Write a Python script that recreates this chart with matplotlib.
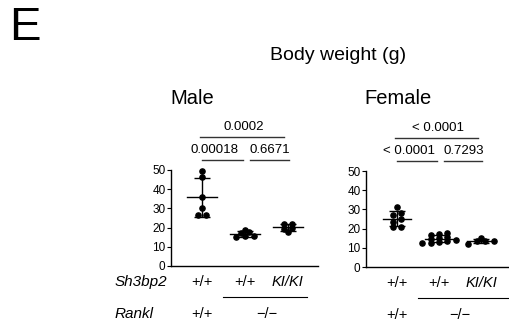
import numpy as np
import matplotlib.pyplot as plt

plt.rcParams['font.family'] = ['Liberation Sans', 'DejaVu Sans']

# Data (body weight, g)
male_wt = [49.5, 46.5, 36, 30, 26.5, 26.5]
male_ko = [15, 17, 17.5, 19, 15.5, 15.5]
male_ki = [22, 17.5, 20, 22, 19.5]
female_wt = [31, 28, 27, 25, 23.5, 21, 21]
female_ko = [17.5, 17, 16.5, 15.5, 15, 14.5, 14, 13.5, 13, 12.5, 12.5]
female_ki = [15, 13.5, 13.5, 13.5, 12]

male_p = ["0.00018", "0.6671", "0.0002"]
female_p = ["< 0.0001", "0.7293", "< 0.0001"]
sh3bp2_labels = ["+/+", "+/+", "KI/KI"]
rankl_labels = ["+/+", "\u2212/\u2212"]
yticks = [0, 10, 20, 30, 40, 50]

W, H = 510, 326
fig = plt.figure(figsize=(W / 100, H / 100), dpi=100)


def px_axes(x0, x1, ytop, ybot):
    return fig.add_axes([x0 / W, 1 - ybot / H, (x1 - x0) / W, (ybot - ytop) / H])


def jitter(vals, width):
    # simple deterministic spread: points at similar heights placed side by side
    vals = np.asarray(vals, float)
    off = np.zeros(len(vals))
    order = np.argsort(vals)
    rows = []
    for i in order:
        placed = False
        for r in rows:
            if abs(vals[r[0]] - vals[i]) < 1.8:
                r.append(i)
                placed = True
                break
        if not placed:
            rows.append([i])
    for r in rows:
        n = len(r)
        pos = (np.arange(n) - (n - 1) / 2) * width
        for k, i in enumerate(r):
            off[i] = pos[k]
    return off


def panel(ax, groups, pvals, xlim, line_x):
    for i, g in enumerate(groups):
        x = i + 1
        g = np.asarray(g)
        m, s = g.mean(), g.std(ddof=1)
        ax.scatter(x + jitter(g, 0.2), g, s=14, color='black', zorder=3, clip_on=False)
        ax.plot([x - 0.34, x + 0.34], [m, m], color='black', lw=1.0)
        ax.errorbar(x, m, yerr=s, color='black', capsize=6, elinewidth=1.0,
                    capthick=1.0, fmt='none')
    ax.set_xlim(*xlim)
    ax.set_ylim(0, 50)
    ax.set_yticks(yticks)
    ax.set_xticks([])
    ax.spines['top'].set_visible(False)
    ax.spines['right'].set_visible(False)
    ax.spines['left'].set_bounds(0, 50)
    ax.tick_params(axis='y', labelsize=8.5, length=3, width=0.8, pad=1)
    for sp in ['left', 'bottom']:
        ax.spines[sp].set_linewidth(1.0)
    # significance brackets
    kw = dict(color='#333333', lw=1.0, clip_on=False)
    ax.plot([1.0, 1.95], [55.2, 55.2], **kw)
    ax.plot([2.12, 3.02], [55.2, 55.2], **kw)
    ax.plot([0.96, 2.92], [67.2, 67.2], **kw)
    ax.text(1.29, 57.3, pvals[0], ha='center', va='bottom', fontsize=9.5)
    ax.text(2.58, 57.3, pvals[1], ha='center', va='bottom', fontsize=9.5)
    ax.text(1.98, 69.3, pvals[2], ha='center', va='bottom', fontsize=9.5)
    # genotype labels
    for i, lab in enumerate(sh3bp2_labels):
        ax.text(i + 1, -8.3, lab, ha='center', va='center', fontsize=10.5,
                style='italic' if lab == "KI/KI" else 'normal')
    ax.plot(line_x, [-16.1, -16.1], color='black', lw=0.8, clip_on=False)
    ax.text(1, -25, rankl_labels[0], ha='center', va='center', fontsize=10.5)
    ax.text(2.5, -25, rankl_labels[1], ha='center', va='center', fontsize=10.5)


axm = px_axes(171, 318, 170, 266)
panel(axm, [male_wt, male_ko, male_ki], male_p, (0.28, 3.7), [1.49, 3.44])
axf = px_axes(366, 510, 171, 267)
panel(axf, [female_wt, female_ko, female_ki], female_p, (0.26, 3.69), [1.5, 3.69])

fig.text(9 / W, 1 - 28 / H, "E", fontsize=34, ha='left', va='center')
fig.text(338 / W, 1 - 56 / H, "Body weight (g)", fontsize=14, ha='center', va='center')
fig.text(192 / W, 1 - 98 / H, "Male", fontsize=14.5, ha='center', va='center')
fig.text(398 / W, 1 - 98 / H, "Female", fontsize=14.5, ha='center', va='center')
fig.text(115 / W, 1 - 282 / H, "Sh3bp2", fontsize=11, style='italic', ha='left', va='center')
fig.text(115 / W, 1 - 314 / H, "Rankl", fontsize=11, style='italic', ha='left', va='center')

fig.savefig("out.png", dpi=100)
